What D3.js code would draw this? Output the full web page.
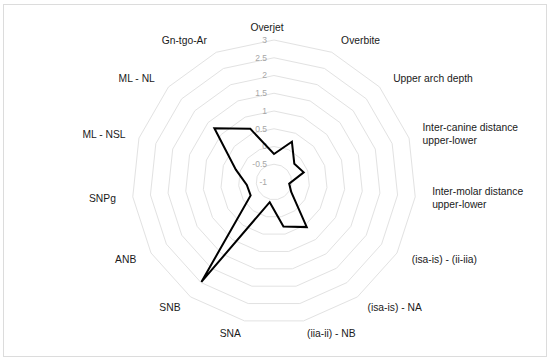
<!DOCTYPE html>
<html>
<head>
<meta charset="utf-8">
<script src="https://cdn.jsdelivr.net/npm/d3@7"></script>
<style>
  body { margin: 0; background: #fff; }
  svg { font-family: 'Liberation Sans', Arial, sans-serif; }
</style>
</head>
<body>
<svg id="chart"></svg>
<script>
// data
const categories = [
  'Overjet', 'Overbite', 'Upper arch depth',
  'Inter-canine distance\nupper-lower', 'Inter-molar distance\nupper-lower',
  '(isa-is) - (ii-iia)', '(isa-is) - NA', '(iia-ii) - NB',
  'SNA', 'SNB', 'ANB', 'SNPg', 'ML - NSL', 'ML - NL', 'Gn-tgo-Ar'
];
const values = [
  -0.21, 0.24, -0.23, -0.12, -0.57, -0.44, 0.57, 0.28,
  -0.42, 2.48, -0.24, -0.23, 0.13, 1.26, 0.64
];
const tickValues = [-1, -0.5, 0, 0.5, 1, 1.5, 2, 2.5, 3];

const width = 550;
const height = 362;
const cx = 274;
const cy = 182;
const radius = 142;

const svg = d3.select('#chart').attr('width', width).attr('height', height);

// frame
svg.append('rect')
  .attr('x', 3.5).attr('y', 4.5)
  .attr('width', 543).attr('height', 352)
  .attr('fill', 'none')
  .attr('stroke', '#dcdcdc');

const g = svg.append('g').attr('transform', `translate(${cx},${cy})`);

// scales
const rScale = d3.scaleLinear().domain([-1, 3]).range([0, radius]);
const angle = d3.scaleLinear().domain([0, categories.length]).range([0, 2 * Math.PI]);

// grid rings
const ringLine = d3.lineRadial().curve(d3.curveLinearClosed);
g.selectAll('.ring')
  .data(tickValues.filter((t) => t > -1))
  .enter()
  .append('path')
  .attr('class', 'ring')
  .attr('d', (t) => ringLine(categories.map((c, i) => [angle(i), rScale(t)])))
  .attr('fill', 'none')
  .attr('stroke', '#e2e2e2')
  .attr('stroke-width', 1);

// tick labels
g.selectAll('.tick')
  .data(tickValues)
  .enter()
  .append('text')
  .attr('class', 'tick')
  .attr('x', -7)
  .attr('y', (t) => -rScale(t))
  .attr('dy', '0.35em')
  .attr('text-anchor', 'end')
  .style('font-size', '8.5px')
  .style('fill', '#a6a6a6')
  .text((t) => t);

// data polygon
g.append('path')
  .datum(values)
  .attr('d', ringLine.angle((d, i) => angle(i)).radius((d) => rScale(d)))
  .attr('fill', 'none')
  .attr('stroke', '#000')
  .attr('stroke-width', 2)
  .attr('stroke-linejoin', 'miter');

// category labels
const labels = g.selectAll('.label')
  .data(categories)
  .enter()
  .append('text')
  .attr('class', 'label')
  .style('font-size', '10.3px')
  .style('fill', '#1a1a1a')
  .attr('text-anchor', (d, i) => {
    const s = Math.sin(angle(i));
    return Math.abs(s) < 0.05 ? 'middle' : s > 0 ? 'start' : 'end';
  })
  .attr('transform', (d, i) => {
    const a = angle(i);
    const c = Math.cos(a);
    const lx = c > 0 ? 155 + 12 * c * c : 159;
    const x = Math.abs(Math.sin(a)) < 0.05 ? -7 : lx * Math.sin(a);
    const y = -155 * c;
    return `translate(${x},${y})`;
  });

labels.each(function (d) {
  const lines = d.split('\n');
  const lh = 12.7;
  d3.select(this)
    .selectAll('tspan')
    .data(lines)
    .enter()
    .append('tspan')
    .attr('x', 0)
    .attr('y', (l, j) => (j - (lines.length - 1) / 2) * lh)
    .attr('dy', '0.35em')
    .text((l) => l);
});
</script>
</body>
</html>
